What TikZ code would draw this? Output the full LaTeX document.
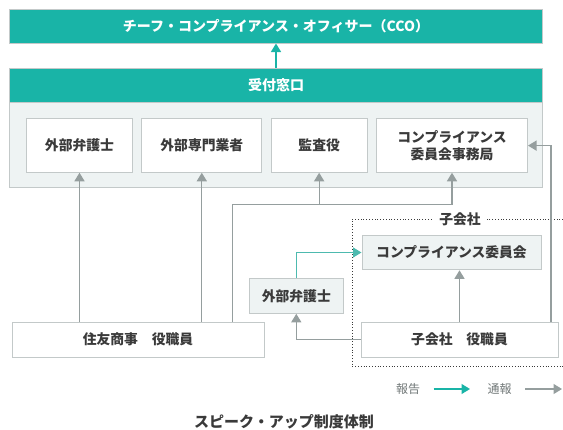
\documentclass[tikz,border=0pt]{standalone}
\usepackage{fontspec}
\setmainfont{Noto Sans CJK JP}
\usetikzlibrary{arrows.meta, positioning, calc}
\definecolor{tealc}{HTML}{19B4A7}
\definecolor{tealline}{HTML}{4DBAAF}
\definecolor{greyline}{HTML}{959E9E}
\definecolor{boxline}{HTML}{C3C9C9}
\definecolor{panelfill}{HTML}{EEF3F3}
\definecolor{textc}{HTML}{3A3A3A}

\begin{document}
\begin{tikzpicture}[
	x=1pt, y=-1pt,
	bartext/.style={font=\fontsize{14}{16}\selectfont\bfseries, text=white},
	tealbar/.style={rectangle, draw=boxline, fill=tealc, minimum width=533pt, minimum height=34pt, inner sep=0pt, bartext},
	panel/.style={rectangle, draw=boxline, line width=1pt, fill=panelfill, minimum width=533pt, minimum height=85.4pt, inner sep=0pt},
	boxtext/.style={font=\fontsize{13.8}{17}\selectfont\bfseries, text=textc, align=center},
	whitebox/.style={rectangle, draw=boxline, line width=1pt, fill=white, minimum height=53.3pt, inner sep=0pt, boxtext},
	greybox/.style={rectangle, draw=boxline, line width=1pt, fill=panelfill, minimum height=34.6pt, inner sep=0pt, boxtext},
	staffbox/.style={rectangle, draw=boxline, line width=1pt, fill=white, minimum height=35pt, inner sep=0pt, boxtext},
	report/.style={-{Triangle[width=10pt,length=8.5pt]}, line width=1.3pt, draw=tealline},
	notice/.style={-{Triangle[width=10pt,length=8.5pt]}, line width=1.3pt, draw=greyline},
	legendtext/.style={font=\fontsize{12}{14}\selectfont, text=greyline!75!black}
	]
	\useasboundingbox (0,0) rectangle (563,429);
	
	% top
	\node[tealbar] (cco) at (276,26.3) {チーフ・コンプライアンス・オフィサー（CCO）};
	\node[panel] (panel) at (276,145) {};
	\node[tealbar] (uketsuke) at (276,85.2) {受付窓口};
	\draw[report, draw=tealc] (uketsuke) -- (cco);
	
	% contact points
	\node[whitebox, minimum width=105.6pt] (bengo) at (79.5,145.6) {外部弁護士};
	\node[whitebox, minimum width=120pt, right=8.5pt of bengo] (senmon) {外部専門業者};
	\node[whitebox, minimum width=95.7pt, right=8.5pt of senmon] (kansa) {監査役};
	\node[whitebox, minimum width=151pt, right=8.5pt of kansa] (jimu) {コンプライアンス\\委員会事務局};
	
	% subsidiary
	\draw[dotted, line width=0.8pt, textc] (563,219) -- (352,219) -- (352,366) -- (563,366);
	\node[fill=white, inner xsep=6pt, boxtext] (kogaisha) at (460,219) {子会社};
	\node[greybox, minimum width=179pt] (iinkai) at (451.5,252.5) {コンプライアンス委員会};
	\node[greybox, minimum width=94pt] (bengo2) at (296.3,296) {外部弁護士};
	
	\node[staffbox, minimum width=252pt] (sumitomo) at (138,339.5) {住友商事\quad 役職員};
	\node[staffbox, minimum width=197pt] (koyaku) at (459.5,339.5) {子会社\quad 役職員};
	
	% connectors
	\coordinate (split) at (232.5,204.3);
	\coordinate (side) at (551,145.6);
	\draw[notice] (bengo.south |- sumitomo.north) -- (bengo.south);
	\draw[notice] (senmon.south |- sumitomo.north) -- (senmon.south);
	\draw[notice] (split |- sumitomo.north) -- (split) -| (jimu.south);
	\draw[notice] (kansa.south |- split) -- (kansa.south);
	\draw[notice] (side |- koyaku.north) -- (side) -- (jimu.east);
	\draw[notice] (koyaku.north) -- (koyaku.north |- iinkai.south);
	\draw[notice] (koyaku.west) -| (bengo2.south);
	\draw[report] (bengo2.north) |- (iinkai.west);
	
	% legend
	\node[legendtext] (hokoku) at (408,389) {報告};
	\node[legendtext] (tsuho) at (499.5,389) {通報};
	\coordinate (hokokuend) at (470,389);
	\coordinate (tsuhoend) at (562,389);
	\draw[report, draw=tealc] ($(hokoku.east)+(10,0)$) -- (hokokuend);
	\draw[notice] ($(tsuho.east)+(10,0)$) -- (tsuhoend);
	
	\node[font=\fontsize{15}{18}\selectfont\bfseries, text=textc] (caption) at (284,422) {スピーク・アップ制度体制};
\end{tikzpicture}
\end{document}
